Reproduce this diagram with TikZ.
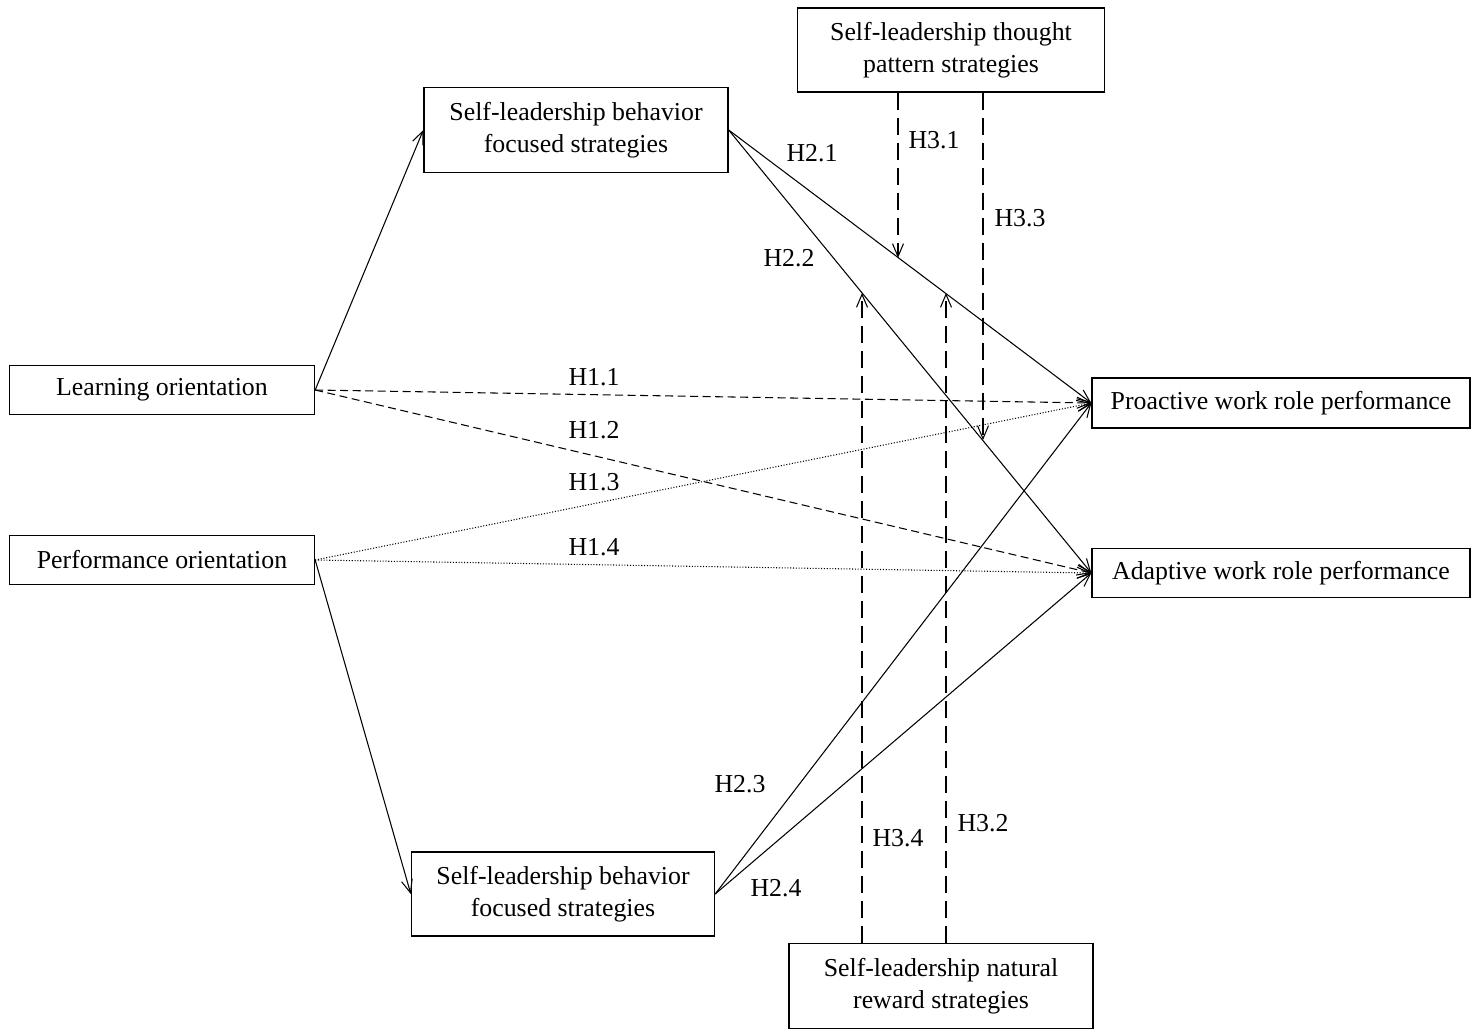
\documentclass[tikz,border=0pt]{standalone}
\usepackage{fontspec}
\setmainfont{Liberation Serif}
\usepackage{tikz}
\usetikzlibrary{arrows.meta, positioning, calc}

\tikzset{
  box/.style={draw, line width=0.8pt, minimum width=#1, inner sep=0pt, align=center, font=\fontsize{14.7}{18.2}\selectfont},
  hlabel/.style={font=\fontsize{14.7}{18.2}\selectfont},
  arr/.style={-{Straight Barb[length=2.6mm, width=2.2mm]}, line width=0.6pt},
  modline/.style={arr, dash pattern=on 3.4mm off 1.6mm}
}

\begin{document}
\begin{tikzpicture}[x=0.02cm, y=-0.02cm]
  \useasboundingbox (0,0) rectangle (1472,1032);

  % ===== LEFT (orientations) =====
  \node[box=6.1cm, minimum height=0.98cm] (lo) at (162, 390) {Learning orientation};
  \node[box=6.1cm, minimum height=0.98cm] (po) at (162, 560) {Performance orientation};

  % ===== MIDDLE (behavior focused) =====
  \node[box=6.08cm, minimum height=1.7cm] (ubf) at (576, 130) {Self-leadership behavior\\focused strategies};
  \node[box=6.06cm, minimum height=1.68cm] (lbf) at (563, 894) {Self-leadership behavior\\focused strategies};

  % ===== MODERATORS (top / bottom) =====
  \node[box=6.14cm, minimum height=1.68cm] (tps) at (951, 50) {Self-leadership thought\\pattern strategies};
  \node[box=6.08cm, minimum height=1.7cm] (nrs) at (941, 986) {Self-leadership natural\\reward strategies};

  % ===== RIGHT (outcomes) =====
  \node[box=7.56cm, minimum height=1.0cm] (pwr) at (1281, 403) {Proactive work role performance};
  \node[box=7.56cm, minimum height=0.98cm] (awr) at (1281, 573) {Adaptive work role performance};

  % orientation -> strategies
  \draw[arr] (lo.east) -- (ubf.west);
  \draw[arr] (po.east) -- (lbf.west);

  % H1 paths
  \draw[arr, dash pattern=on 1.6mm off 0.9mm] (lo.east) -- (pwr.west);
  \draw[arr, dash pattern=on 1.6mm off 0.9mm] (lo.east) -- (awr.west);
  \draw[arr, densely dotted] (po.east) -- (pwr.west);
  \draw[arr, densely dotted] (po.east) -- (awr.west);
  \node[hlabel] at (594, 377) {H1.1};
  \node[hlabel] at (594, 430) {H1.2};
  \node[hlabel] at (594, 482) {H1.3};
  \node[hlabel] at (594, 547) {H1.4};

  % H2 paths
  \draw[arr] (ubf.east) -- (pwr.west);
  \draw[arr] (ubf.east) -- (awr.west);
  \draw[arr] (lbf.east) -- (pwr.west);
  \draw[arr] (lbf.east) -- (awr.west);
  \node[hlabel] at (812, 153) {H2.1};
  \node[hlabel] at (789, 258) {H2.2};
  \node[hlabel] at (740, 784) {H2.3};
  \node[hlabel] at (776, 888) {H2.4};

  % H3 moderation
  \coordinate (h31) at (898, 258);
  \coordinate (h33) at (983, 440);
  \coordinate (h32) at (946, 293);
  \coordinate (h34) at (862, 293);
  \draw[modline] (tps.south -| h31) -- (h31);
  \draw[modline] (tps.south -| h33) -- (h33);
  \draw[modline] (nrs.north -| h32) -- (h32);
  \draw[modline] (nrs.north -| h34) -- (h34);
  \node[hlabel] at (934, 140) {H3.1};
  \node[hlabel] at (1020, 218) {H3.3};
  \node[hlabel] at (983, 823) {H3.2};
  \node[hlabel] at (898, 838) {H3.4};
\end{tikzpicture}
\end{document}
